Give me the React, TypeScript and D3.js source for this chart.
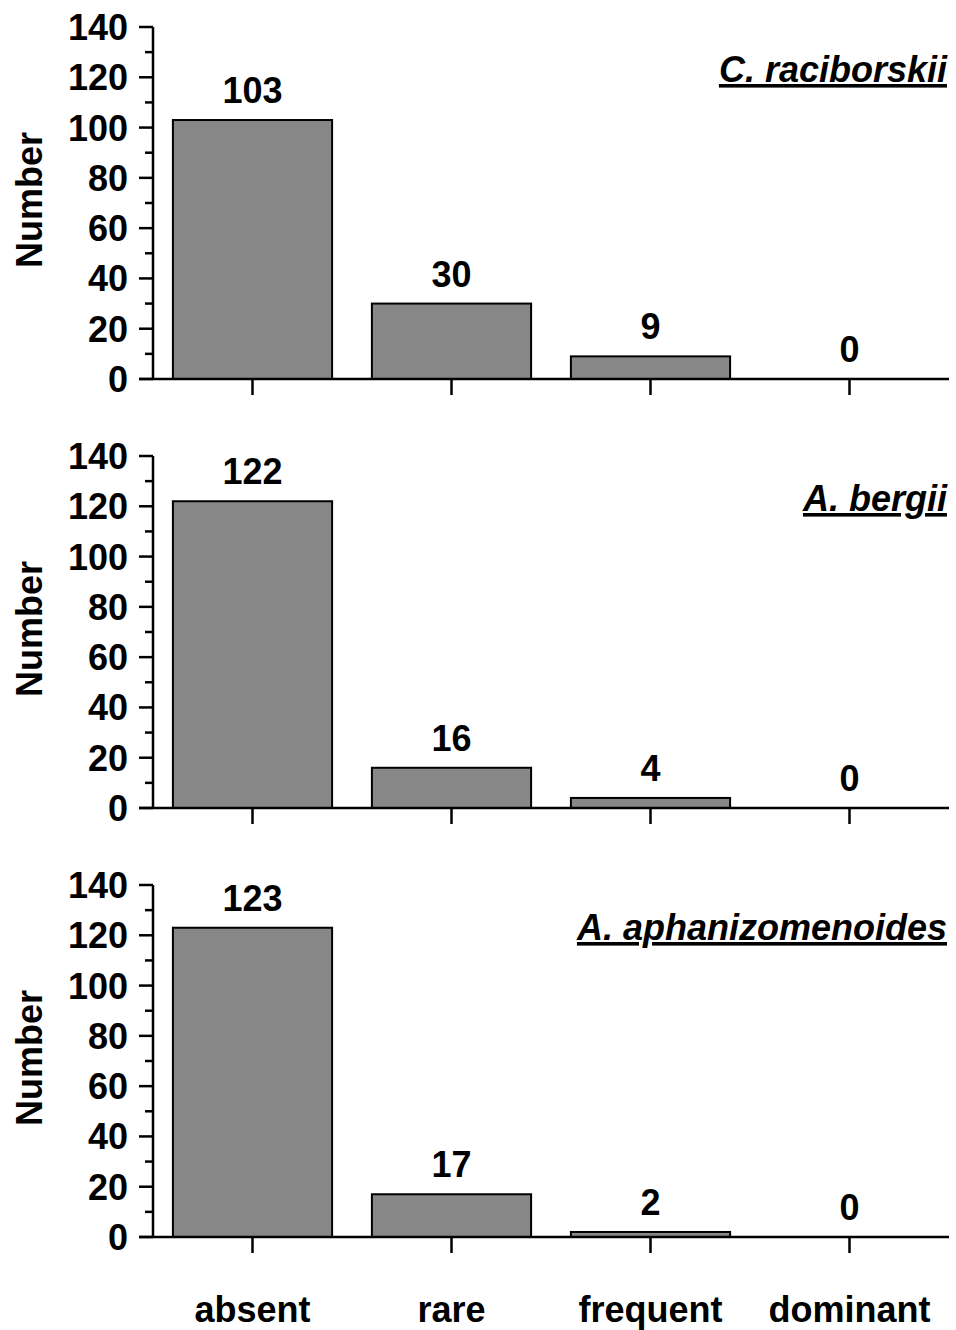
import React from "react";
import * as d3 from "d3";

const categories = ["absent", "rare", "frequent", "dominant"];
const speciesNames = ["C. raciborskii", "A. bergii", "A. aphanizomenoides"];
const raciborskiiCounts = [103, 30, 9, 0];
const bergiiCounts = [122, 16, 4, 0];
const aphanizomenoidesCounts = [123, 17, 2, 0];
const yTickValues = [0, 20, 40, 60, 80, 100, 120, 140];
const yMinorValues = [10, 30, 50, 70, 90, 110, 130];

const panels = [raciborskiiCounts, bergiiCounts, aphanizomenoidesCounts];

const W = 956;
const H = 1330;
const axisX = 153;
const plotRight = 949;
const plotH = 352;
const panelBottoms = [379, 808, 1237];
const font = "'Liberation Sans', Arial, sans-serif";

const Panel = ({ values, name, bottom }) => {
  const x = d3.scaleBand().domain(categories).range([axisX, plotRight]).paddingInner(0.2).paddingOuter(0.1);
  const y = d3.scaleLinear().domain([0, 140]).range([bottom, bottom - plotH]);

  return (
    <g>
      {/* bars */}
      {values.map((v, i) => (
        <rect
          key={categories[i]}
          x={x(categories[i])}
          y={y(v)}
          width={x.bandwidth()}
          height={bottom - y(v)}
          fill="#878787"
          stroke="#000"
          strokeWidth={2}
        />
      ))}
      {/* value labels */}
      {values.map((v, i) => (
        <text
          key={"l" + i}
          x={x(categories[i]) + x.bandwidth() / 2}
          y={y(v) - 17}
          textAnchor="middle"
          fontFamily={font}
          fontWeight="bold"
          fontSize={36}
        >
          {v}
        </text>
      ))}
      {/* y axis */}
      <line x1={axisX} x2={axisX} y1={y(140)} y2={bottom} stroke="#000" strokeWidth={2.5} />
      {yTickValues.map((t) => (
        <g key={"t" + t}>
          <line x1={axisX - 14} x2={axisX} y1={y(t)} y2={y(t)} stroke="#000" strokeWidth={2.5} />
          <text
            x={axisX - 25}
            y={y(t)}
            dy="0.36em"
            textAnchor="end"
            fontFamily={font}
            fontWeight="bold"
            fontSize={36}
          >
            {t}
          </text>
        </g>
      ))}
      {yMinorValues.map((t) => (
        <line key={"m" + t} x1={axisX - 8} x2={axisX} y1={y(t)} y2={y(t)} stroke="#000" strokeWidth={2.5} />
      ))}
      {/* x axis */}
      <line x1={axisX - 14} x2={plotRight} y1={bottom} y2={bottom} stroke="#000" strokeWidth={2.5} />
      {categories.map((c) => (
        <line
          key={"x" + c}
          x1={x(c) + x.bandwidth() / 2}
          x2={x(c) + x.bandwidth() / 2}
          y1={bottom}
          y2={bottom + 16}
          stroke="#000"
          strokeWidth={2.5}
        />
      ))}
      {/* y title */}
      <text
        transform={`translate(${42},${bottom - plotH / 2 - 3}) rotate(-90)`}
        textAnchor="middle"
        fontFamily={font}
        fontWeight="bold"
        fontSize={36}
      >
        Number
      </text>
      {/* species name */}
      <text
        x={947}
        y={bottom - 297}
        textAnchor="end"
        fontFamily={font}
        fontWeight="bold"
        fontStyle="italic"
        fontSize={36}
        textDecoration="underline"
      >
        {name}
      </text>
    </g>
  );
};

export default function App() {
  const x = d3.scaleBand().domain(categories).range([axisX, plotRight]).paddingInner(0.2).paddingOuter(0.1);
  return (
    <svg width={W} height={H} style={{ display: "block", position: "absolute", left: 0, top: 0, background: "#fff" }}>
      <rect width={W} height={H} fill="#fff" />
      {panels.map((vals, i) => (
        <Panel key={speciesNames[i]} values={vals} name={speciesNames[i]} bottom={panelBottoms[i]} />
      ))}
      {categories.map((c) => (
        <text
          key={"c" + c}
          x={x(c) + x.bandwidth() / 2}
          y={1322}
          textAnchor="middle"
          fontFamily={font}
          fontWeight="bold"
          fontSize={36}
        >
          {c}
        </text>
      ))}
    </svg>
  );
}
